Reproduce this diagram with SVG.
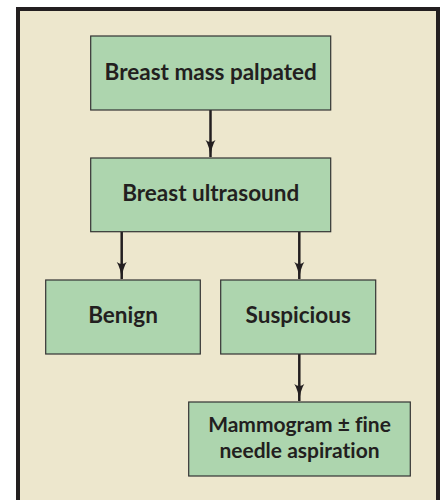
<svg xmlns="http://www.w3.org/2000/svg" width="442" height="500" viewBox="0 0 442 500">
<defs>
<style>
.box{fill:#add5ae;stroke:#333;stroke-width:1.2}
.lbl{font-family:Lato,"Open Sans","Liberation Sans",sans-serif;font-weight:bold;font-size:22.5px;fill:#231f20;text-anchor:middle;font-variant-ligatures:none;font-feature-settings:"liga" 0}
.sm{font-size:21px}
.con{stroke:#231f20;stroke-width:2.5;fill:none}
</style>
</defs>
<rect x="0" y="0" width="442" height="500" fill="#ffffff"/>
<rect x="18" y="9" width="420" height="500" fill="#ede7cd" stroke="#231f20" stroke-width="4"/>
<g id="connectors">
<line class="con" x1="210.5" y1="110" x2="210.5" y2="157"/>
<line class="con" x1="121.7" y1="232" x2="121.7" y2="279"/>
<line class="con" x1="299.3" y1="232" x2="299.3" y2="279"/>
<line class="con" x1="299.3" y1="354" x2="299.3" y2="401"/>
<path d="M205.5,140 Q209.5,146 210.5,158 Q211.5,146 215.5,140 Q210.5,144 205.5,140 Z" fill="#231f20"/>
<path d="M116.7,262 Q120.7,268 121.7,280 Q122.7,268 126.7,262 Q121.7,266 116.7,262 Z" fill="#231f20"/>
<path d="M294.3,262 Q298.3,268 299.3,280 Q300.3,268 304.3,262 Q299.3,266 294.3,262 Z" fill="#231f20"/>
<path d="M294.3,384 Q298.3,390 299.3,402 Q300.3,390 304.3,384 Q299.3,388 294.3,384 Z" fill="#231f20"/>
</g>
<g id="n1">
<rect class="box" x="90.7" y="36" width="240" height="74"/>
<text class="lbl" x="210.7" y="79.5">Breast mass palpated</text>
</g>
<g id="n2">
<rect class="box" x="90.7" y="158" width="240" height="73.7"/>
<text class="lbl" x="210.7" y="201">Breast ultrasound</text>
</g>
<g id="n3">
<rect class="box" x="45.7" y="280" width="154.6" height="74"/>
<text class="lbl" x="123" y="323.3">Benign</text>
</g>
<g id="n4">
<rect class="box" x="220.7" y="280" width="155" height="74"/>
<text class="lbl" x="298.2" y="323.3">Suspicious</text>
</g>
<g id="n5">
<rect class="box" x="188.7" y="402" width="221.6" height="74"/>
<text class="lbl sm" x="299.5" y="432.3">Mammogram ± fine</text>
<text class="lbl sm" x="299.5" y="457.7">needle aspiration</text>
</g>
</svg>
